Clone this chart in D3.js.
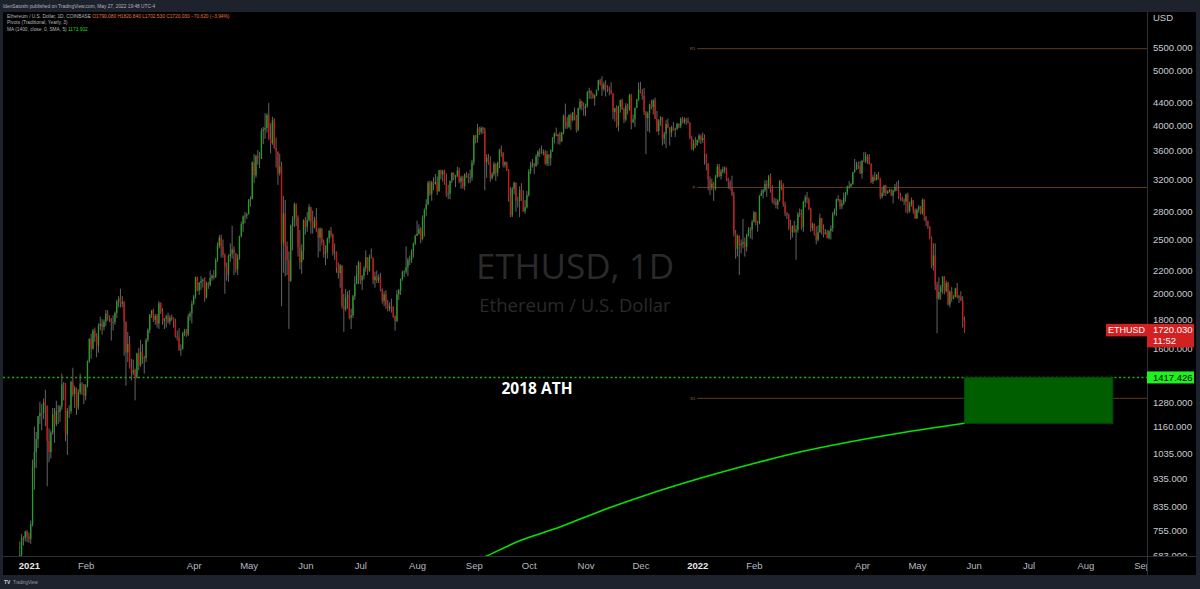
<!DOCTYPE html>
<html>
<head>
<meta charset="utf-8">
<script src="https://cdn.jsdelivr.net/npm/d3@7"></script>
<style>
  body { margin: 0; background: #1e222d; overflow: hidden; }
  svg { display: block; }
</style>
</head>
<body>
<svg id="chart" width="1200" height="589"></svg>
<script>
// daily candles, one row per day: [high, low, close]; open is the previous close
const firstOpen = 590;
const dec2020 = [ // from Dec 16
  [640,588,636],[676,630,643],[658,628,654],[667,648,659],[660,630,638],[645,600,609],[638,597,634],[637,566,584],
  [613,570,612],[628,603,626],[648,622,635],[722,632,683],[745,680,731],[738,710,732],[755,722,752],[757,720,737]];
const jan2021 = [
  [749,718,730],[787,715,775],[1011,768,979],[1158,893,1042],[1133,976,1100],[1210,1060,1208],[1282,1170,1225],[1270,1140,1224],
  [1300,1195,1281],[1348,1160,1262],[1263,906,1090],[1150,1000,1043],[1140,1015,1130],[1250,1120,1218],[1250,1083,1171],[1288,1160,1233],
  [1265,1170,1230],[1265,1180,1257],[1440,1240,1377],[1390,1290,1382],[1385,1090,1121],[1250,1030,1236],[1265,1200,1233],[1400,1220,1392],
  [1475,1310,1324],[1370,1250,1357],[1360,1215,1253],[1350,1240,1332],[1440,1320,1382],[1390,1320,1377],[1380,1270,1314]];
const feb2021 = [
  [1380,1290,1369],[1520,1360,1515],[1665,1505,1660],[1695,1530,1594],[1730,1590,1719],[1740,1640,1677],[1700,1540,1614],[1770,1570,1751],
  [1820,1720,1769],[1800,1690,1744],[1800,1720,1783],[1870,1750,1843],[1870,1790,1814],[1830,1780,1804],[1810,1650,1779],[1830,1720,1781],
  [1860,1760,1848],[1950,1810,1938],[1980,1890,1960],[2042,1890,1920],[1980,1890,1935],[1940,1550,1781],[1785,1370,1571],[1710,1510,1626],
  [1680,1470,1475],[1530,1400,1446],[1525,1430,1459],[1470,1290,1416]];
const mar2021 = [
  [1570,1410,1564],[1600,1460,1492],[1655,1480,1575],[1625,1500,1541],[1550,1440,1533],[1665,1510,1654],[1735,1640,1723],[1840,1700,1834],
  [1870,1810,1868],[1880,1780,1795],[1840,1760,1826],[1840,1740,1769],[1940,1730,1924],[1930,1840,1855],[1885,1760,1788],[1810,1730,1806],
  [1835,1740,1822],[1850,1770,1782],[1830,1760,1812],[1835,1790,1813],[1815,1740,1785],[1805,1670,1681],[1720,1650,1669],[1735,1580,1590],
  [1625,1550,1594],[1710,1590,1702],[1730,1680,1716],[1730,1675,1691],[1840,1680,1819],[1860,1790,1846],[1945,1770,1919]];
const apr2021 = [
  [1990,1910,1977],[2145,1960,2143],[2145,2020,2027],[2100,1990,2093],[2150,2030,2108],[2130,2050,2118],[2140,1935,1971],[2100,1960,2089],
  [2100,2040,2072],[2200,2060,2134],[2165,2110,2155],[2205,2120,2140],[2315,2135,2299],[2470,2280,2435],[2545,2410,2519],[2550,2320,2431],
  [2500,2320,2345],[2360,2000,2237],[2275,2110,2161],[2350,2100,2333],[2460,2280,2357],[2645,2310,2400],[2430,2160,2364],[2365,2180,2211],
  [2350,2160,2317],[2540,2300,2534],[2690,2520,2663],[2760,2580,2747],[2800,2670,2757],[2790,2720,2774]];
const may2021 = [
  [2950,2770,2945],[2985,2860,2950],[3445,2950,3432],[3550,3150,3253],[3540,3220,3522],[3610,3400,3491],[3580,3350,3484],[3950,3480,3904],
  [3970,3700,3928],[4200,3780,3953],[4200,3880,4168],[4380,3760,3786],[4030,3560,3715],[4140,3690,4080],[4115,3630,3640],[3800,3360,3589],
  [3580,3130,3282],[3560,3250,3374],[3440,1900,2461],[2990,2180,2784],[2940,2150,2431],[2480,2160,2296],[2380,1730,2109],[2660,2100,2643],
  [2750,2390,2706],[2910,2630,2888],[2900,2640,2737],[2760,2330,2419],[2600,2210,2277],[2450,2170,2385],[2715,2300,2706]];
const jun2021 = [
  [2740,2550,2634],[2800,2580,2707],[2890,2690,2856],[2860,2560,2690],[2815,2560,2630],[2745,2615,2715],[2845,2580,2592],[2620,2320,2517],
  [2630,2380,2610],[2620,2440,2472],[2500,2320,2354],[2440,2250,2372],[2520,2310,2508],[2600,2460,2587],[2630,2520,2547],[2560,2340,2368],
  [2460,2300,2374],[2380,2180,2226],[2275,2130,2176],[2260,2050,2246],[2250,1880,1899],[2000,1710,1875],[2040,1860,1971],[2020,1880,1990],
  [2030,1800,1813],[1880,1730,1829],[1990,1810,1978],[2150,1950,2085],[2250,2080,2167],[2290,2080,2275]];
const jul2021 = [
  [2270,2080,2112],[2160,2030,2151],[2240,2120,2221],[2390,2190,2323],[2320,2160,2198],[2350,2190,2323],[2410,2310,2316],[2320,2080,2115],
  [2190,2050,2146],[2200,2090,2111],[2165,2090,2140],[2180,2020,2035],[2045,1920,1940],[2020,1900,1995],[2030,1880,1911],[1950,1860,1880],
  [1930,1860,1898],[1960,1850,1895],[1900,1810,1820],[1830,1718,1787],[2030,1780,1995],[2040,1950,2027],[2130,1990,2124],[2200,2110,2188],
  [2200,2140,2191],[2430,2170,2230],[2320,2150,2300],[2340,2250,2298],[2400,2270,2382],[2470,2320,2461],[2550,2440,2536]];
const aug2021 = [
  [2700,2540,2558],[2660,2550,2608],[2630,2460,2507],[2760,2490,2726],[2840,2530,2827],[2950,2750,2890],[3180,2880,3156],[3185,2990,3013],
  [3180,2930,3163],[3230,3060,3142],[3270,3130,3166],[3240,3000,3049],[3330,3040,3323],[3330,3200,3267],[3330,3170,3310],[3330,3130,3148],
  [3280,2980,3012],[3130,2950,3018],[3185,2950,3182],[3300,3150,3286],[3290,3190,3225],[3260,3100,3243],[3370,3230,3321],[3360,3150,3174],
  [3250,3080,3225],[3250,3080,3112],[3280,3060,3269],[3300,3220,3241],[3280,3150,3224],[3330,3150,3227],[3470,3180,3433]];
const sep2021 = [
  [3840,3390,3834],[3840,3710,3790],[4020,3720,3943],[3970,3840,3889],[3980,3850,3953],[3970,3860,3926],[3960,3060,3435],[3550,3220,3497],
  [3550,3400,3427],[3520,3170,3213],[3300,3200,3270],[3440,3240,3410],[3420,3180,3287],[3440,3240,3430],[3630,3350,3614],[3680,3510,3571],
  [3580,3360,3397],[3450,3360,3433],[3440,3310,3331],[3340,2920,2977],[3100,2740,2763],[3100,2740,3078],[3170,3010,3157],[3160,2800,2931],
  [2980,2850,2927],[3110,2740,3063],[3150,2930,2934],[3060,2800,2807],[2940,2780,2853],[3050,2840,3001]];
const oct2021 = [
  [3340,2980,3307],[3440,3270,3391],[3480,3360,3418],[3420,3270,3380],[3550,3370,3518],[3610,3400,3584],[3640,3510,3587],[3680,3550,3563],
  [3620,3530,3577],[3610,3400,3415],[3600,3380,3545],[3550,3380,3492],[3620,3390,3603],[3810,3580,3789],[3880,3710,3866],[3960,3820,3829],
  [3860,3700,3848],[3890,3690,3744],[3890,3730,3878],[4180,3850,4155],[4370,3940,4057],[4140,3940,3972],[4180,3950,4170],[4200,3920,4083],
  [4220,4060,4216],[4300,4080,4131],[4170,3880,3928],[4300,3900,4288],[4460,4260,4415],[4420,4250,4323],[4390,4160,4288]];
const nov2021 = [
  [4370,4150,4323],[4600,4300,4584],[4665,4460,4604],[4620,4450,4534],[4570,4460,4470],[4540,4330,4522],[4630,4510,4620],[4820,4610,4812],
  [4840,4710,4735],[4891,4510,4637],[4780,4600,4730],[4810,4500,4667],[4710,4580,4646],[4690,4520,4622],[4770,4540,4556],[4560,4100,4223],
  [4300,4060,4289],[4340,3960,3990],[4330,3900,4312],[4440,4210,4439],[4460,4260,4272],[4300,4030,4093],[4380,4060,4335],[4370,4180,4270],
  [4550,4240,4526],[4550,3930,4042],[4180,4040,4097],[4300,3970,4296],[4460,4290,4446],[4770,4420,4632]];
const dec2021 = [
  [4780,4560,4586],[4640,4440,4511],[4660,4170,4224],[4240,3550,4118],[4230,3900,4200],[4370,3880,4357],[4440,4270,4309],[4450,4180,4428],
  [4480,4100,4108],[4240,3890,3903],[4100,3840,4077],[4150,3990,4136],[4130,3680,3785],[3890,3700,3862],[4090,3640,4018],[4110,3950,3962],
  [3970,3680,3880],[3990,3810,3960],[4050,3910,3926],[3960,3810,3941],[4040,3920,4020],[4030,3950,3982],[4130,3950,4108],[4140,4030,4049],
  [4130,4020,4096],[4120,4000,4069],[4130,4030,4036],[4050,3770,3796],[3830,3610,3629],[3770,3600,3711],[3810,3640,3682]];
const jan2022 = [
  [3770,3680,3765],[3860,3720,3830],[3850,3700,3762],[3880,3720,3794],[3850,3400,3551],[3560,3320,3416],[3420,3060,3195],[3240,3000,3088],
  [3210,3060,3144],[3170,2930,3083],[3260,3060,3238],[3410,3220,3373],[3410,3230,3244],[3340,3200,3306],[3370,3280,3332],[3380,3280,3357],
  [3360,3180,3213],[3220,3080,3164],[3190,3060,3097],[3250,2990,3000],[3040,2530,2561],[2600,2310,2407],[2550,2330,2538],[2540,2160,2443],
  [2500,2360,2456],[2720,2410,2472],[2520,2330,2424],[2560,2380,2547],[2630,2530,2597],[2630,2510,2603],[2710,2500,2688]];
const feb2022 = [
  [2810,2680,2792],[2800,2650,2682],[2700,2580,2677],[3000,2660,2989],[3070,2990,3026],[3080,2960,3060],[3190,3040,3140],[3190,2980,3111],
  [3260,3080,3239],[3280,3030,3076],[3130,2900,2930],[2970,2880,2920],[2960,2840,2880],[2950,2830,2935],[3190,2920,3183],[3190,3060,3127],
  [3150,2860,2885],[2920,2750,2784],[2800,2720,2764],[2780,2600,2625],[2710,2500,2575],[2650,2520,2640],[2700,2570,2583],[2650,2300,2601],
  [2800,2570,2772],[2840,2740,2780],[2830,2600,2627],[2930,2580,2919]];
const mar2022 = [
  [3000,2850,2973],[3040,2900,2948],[2970,2820,2835],[2850,2580,2619],[2680,2590,2665],[2670,2540,2555],[2640,2450,2497],[2650,2480,2574],
  [2780,2570,2728],[2730,2550,2607],[2660,2520,2557],[2610,2550,2572],[2600,2510,2515],[2600,2500,2587],[2650,2500,2617],[2800,2580,2774],
  [2840,2760,2813],[2960,2750,2944],[3000,2920,2950],[2950,2830,2863],[2940,2830,2896],[3030,2880,2970],[3040,2920,3031],[3120,3000,3109],
  [3180,3080,3109],[3150,3100,3142],[3300,3130,3297],[3480,3290,3331],[3440,3330,3401],[3440,3340,3384],[3450,3270,3282]];
const apr2022 = [
  [3470,3210,3451],[3580,3440,3445],[3580,3420,3522],[3550,3410,3520],[3550,3400,3409],[3420,3150,3171],[3260,3140,3233],[3300,3180,3190],
  [3270,3190,3264],[3300,3200,3210],[3220,2950,2981],[3100,2960,3029],[3130,2990,3117],[3130,2990,3020],[3060,3020,3040],[3080,3030,3061],
  [3080,2990,2993],[3070,2900,3056],[3140,3040,3104],[3170,3050,3075],[3190,2950,2986],[3030,2930,2964],[2980,2920,2935],[2960,2880,2922],
  [3020,2790,3008],[3030,2780,2808],[2920,2790,2889],[2970,2860,2936],[2940,2780,2817],[2840,2720,2727]];
const may2022 = [
  [2840,2720,2826],[2880,2790,2859],[2870,2770,2782],[2960,2770,2942],[2950,2700,2749],[2750,2640,2695],[2700,2610,2635],[2640,2500,2518],
  [2530,2220,2243],[2460,2200,2342],[2460,2030,2073],[2100,1700,1961],[2140,1950,2014],[2075,1950,2055],[2150,2000,2145],[2150,1995,2022],
  [2110,2010,2090],[2100,1905,1913],[2030,1890,2017],[2055,1935,1960],[1990,1955,1976],[2050,1970,2043],[2090,1960,1971],[1990,1925,1978],
  [2020,1940,1945],[1980,1740,1790.08],[1820.84,1702.53,1720.03]];

const months = [
  [2020, 11, 16, dec2020], [2021, 0, 1, jan2021], [2021, 1, 1, feb2021], [2021, 2, 1, mar2021],
  [2021, 3, 1, apr2021], [2021, 4, 1, may2021], [2021, 5, 1, jun2021], [2021, 6, 1, jul2021],
  [2021, 7, 1, aug2021], [2021, 8, 1, sep2021], [2021, 9, 1, oct2021], [2021, 10, 1, nov2021],
  [2021, 11, 1, dec2021], [2022, 0, 1, jan2022], [2022, 1, 1, feb2022], [2022, 2, 1, mar2022],
  [2022, 3, 1, apr2022], [2022, 4, 1, may2022]];

// MA(1400)
const maDates = ["2021-08-25","2021-09-07","2021-09-26","2021-10-18","2021-11-09","2021-12-01",
  "2022-01-03","2022-02-04","2022-02-26","2022-03-25","2022-04-22","2022-05-27"];
const maValues = [650, 678, 724, 766, 818, 867, 937, 1001, 1043, 1087, 1128, 1173.902];

// yearly pivots
const pivotNames = ["R1", "P", "S1"];
const pivotValues = [5477.7, 3095.8, 1300.8];
const pivotStart = "2022-01-01";

const athLevel = 1417.426;
const zoneDates = ["2022-05-27", "2022-08-16"];
const zonePrices = [1173.902, 1417.426];
const lastClose = 1720.03;

const priceTicks = [5500, 5000, 4400, 4000, 3600, 3200, 2800, 2500, 2200, 2000, 1800, 1600, 1280, 1160, 1035, 935, 835, 755, 683];
const timeTickDates = ["2021-01-01","2021-02-01","2021-04-01","2021-05-01","2021-06-01","2021-07-01","2021-08-01","2021-09-01",
  "2021-10-01","2021-11-01","2021-12-01","2022-01-01","2022-02-01","2022-04-01","2022-05-01","2022-06-01","2022-07-01","2022-08-01","2022-09-01"];
const timeTickLabels = ["2021","Feb","Apr","May","Jun","Jul","Aug","Sep","Oct","Nov","Dec","2022","Feb","Apr","May","Jun","Jul","Aug","Sep"];

// build candles
const candles = [];
let prev = firstOpen;
months.forEach(([yr, mo, d0, rows]) => {
  rows.forEach((r, i) => {
    candles.push({ date: new Date(Date.UTC(yr, mo, d0 + i)), open: prev, high: r[0], low: r[1], close: r[2] });
    prev = r[2];
  });
});
const parse = d3.utcParse("%Y-%m-%d");

const svg = d3.select("#chart");
const font = "'Liberation Sans', Arial, sans-serif";
const plotL = 3, plotR = 1147, plotT = 12, plotB = 556;

// panel
svg.append("rect").attr("x", 3).attr("y", 12).attr("width", 1193).attr("height", 563).attr("fill", "#000");

const x = d3.scaleUtc()
  .domain([Date.UTC(2021, 0, 1), Date.UTC(2022, 0, 1)])
  .range([28.9, 697.2]);
const y = d3.scaleLog().domain([683, 5500]).range([555, 47.7]);

svg.append("clipPath").attr("id", "plot")
  .append("rect").attr("x", plotL).attr("y", plotT).attr("width", plotR - plotL).attr("height", plotB - plotT);

// watermark
svg.append("text").attr("x", 575).attr("y", 279).attr("text-anchor", "middle")
  .attr("font-family", "'Open Sans', sans-serif").attr("font-size", 35).attr("fill", "#2a2a2a")
  .text("ETHUSD, 1D");
svg.append("text").attr("x", 575).attr("y", 312).attr("text-anchor", "middle")
  .attr("font-family", "'Open Sans', sans-serif").attr("font-size", 18.5).attr("fill", "#2a2a2a")
  .text("Ethereum / U.S. Dollar");

const g = svg.append("g").attr("clip-path", "url(#plot)");

// pivots
const pivX0 = x(parse(pivotStart));
g.selectAll(".pivot").data(pivotValues).enter().append("line")
  .attr("x1", pivX0).attr("x2", plotR)
  .attr("y1", d => y(d)).attr("y2", d => y(d))
  .attr("stroke", "#5e3d1c").attr("stroke-width", 1);
g.selectAll(".pivlab").data(pivotNames).enter().append("text")
  .attr("x", pivX0 - 2).attr("y", (d, i) => y(pivotValues[i]) + 1.5)
  .attr("text-anchor", "end").attr("font-family", font).attr("font-size", 4).attr("fill", "#9a6a34")
  .text(d => d);

// 2018 ATH dotted line
g.append("line").attr("x1", plotL).attr("x2", plotR)
  .attr("y1", y(athLevel)).attr("y2", y(athLevel))
  .attr("stroke", "#0fb20f").attr("stroke-width", 1.5).attr("stroke-dasharray", "2,2.5");

// zone
g.append("rect")
  .attr("x", x(parse(zoneDates[0]))).attr("y", y(zonePrices[1]))
  .attr("width", x(parse(zoneDates[1])) - x(parse(zoneDates[0])))
  .attr("height", y(zonePrices[0]) - y(zonePrices[1]))
  .attr("fill", "#005d00").attr("stroke", "#004a00").attr("stroke-width", 1);

// MA line
const maLine = d3.line().x(d => x(d[0])).y(d => y(d[1])).curve(d3.curveMonotoneX);
g.append("path").datum(maDates.map((d, i) => [parse(d), maValues[i]]))
  .attr("d", maLine).attr("fill", "none").attr("stroke", "#00e600").attr("stroke-width", 1.6);

// candles
const bw = 1.3;
g.selectAll(".wick").data(candles).enter().append("line")
  .attr("x1", d => x(d.date)).attr("x2", d => x(d.date))
  .attr("y1", d => y(Math.max(d.high, d.open, d.close)))
  .attr("y2", d => y(Math.min(d.low, d.open, d.close)))
  .attr("stroke", "#6f6f6f").attr("stroke-width", 0.9);
g.selectAll(".body").data(candles).enter().append("rect")
  .attr("x", d => x(d.date) - bw / 2)
  .attr("y", d => y(Math.max(d.open, d.close)))
  .attr("width", bw)
  .attr("height", d => Math.max(0.8, Math.abs(y(d.open) - y(d.close))))
  .attr("fill", d => d.close >= d.open ? "#23a123" : "#d41414");

// ATH text
svg.append("text").attr("x", 537).attr("y", 394).attr("text-anchor", "middle")
  .attr("font-family", "'Open Sans', sans-serif").attr("font-weight", "bold").attr("font-size", 15.5)
  .attr("fill", "#fff").text("2018 ATH");

// axes separators
svg.append("line").attr("x1", plotR + 0.5).attr("x2", plotR + 0.5).attr("y1", 12).attr("y2", 575)
  .attr("stroke", "#2e3039");
svg.append("line").attr("x1", 3).attr("x2", 1196).attr("y1", plotB + 0.5).attr("y2", plotB + 0.5)
  .attr("stroke", "#2e3039");

// price axis
svg.append("clipPath").attr("id", "paxis")
  .append("rect").attr("x", plotR).attr("y", plotT).attr("width", 50).attr("height", plotB - plotT);
const yAxis = svg.append("g").attr("clip-path", "url(#paxis)")
  .append("g").attr("transform", `translate(${plotR},0)`)
  .call(d3.axisRight(y).tickValues(priceTicks).tickFormat(d3.format(".3f")).tickSize(0).tickPadding(6));
yAxis.select(".domain").remove();
yAxis.selectAll("text").attr("font-family", font).attr("font-size", 9.5).attr("fill", "#c8cad0");
svg.append("text").attr("x", 1153).attr("y", 21).attr("font-family", font).attr("font-size", 9.5)
  .attr("fill", "#c8cad0").text("USD");

// time axis
svg.append("clipPath").attr("id", "taxis")
  .append("rect").attr("x", plotL).attr("y", plotB).attr("width", plotR - plotL).attr("height", 19);
const xAxis = svg.append("g").attr("clip-path", "url(#taxis)")
  .append("g").attr("transform", `translate(0,${plotB})`)
  .call(d3.axisBottom(x).tickValues(timeTickDates.map(parse)).tickFormat((d, i) => timeTickLabels[i]).tickSize(0).tickPadding(6));
xAxis.select(".domain").remove();
xAxis.selectAll("text").attr("font-family", font).attr("font-size", 9.5)
  .attr("fill", (d, i) => /^\d+$/.test(timeTickLabels[i]) ? "#e6e7ea" : "#b8bac0")
  .attr("font-weight", (d, i) => /^\d+$/.test(timeTickLabels[i]) ? "bold" : "normal");

// last price label
const yl = y(lastClose);
svg.append("rect").attr("x", 1106).attr("y", yl - 6.5).attr("width", 41).attr("height", 12.5).attr("fill", "#d32020");
svg.append("text").attr("x", 1126.5).attr("y", yl + 3).attr("text-anchor", "middle")
  .attr("font-family", font).attr("font-size", 9).attr("fill", "#fff").text("ETHUSD");
svg.append("rect").attr("x", 1147).attr("y", yl - 6.5).attr("width", 47).attr("height", 23.5).attr("fill", "#d32020");
svg.append("text").attr("x", 1153).attr("y", yl + 3).attr("font-family", font).attr("font-size", 9.5)
  .attr("fill", "#fff").text(d3.format(".3f")(lastClose));
svg.append("text").attr("x", 1153).attr("y", yl + 14).attr("font-family", font).attr("font-size", 9.5)
  .attr("fill", "#fff").text("11:52");

// ATH label
const ya = y(athLevel);
svg.append("rect").attr("x", 1147).attr("y", ya - 6).attr("width", 47).attr("height", 12).attr("fill", "#1ef21e");
svg.append("text").attr("x", 1153).attr("y", ya + 3.3).attr("font-family", font).attr("font-size", 9.5)
  .attr("fill", "#000").text(d3.format(".3f")(athLevel));

// header
svg.append("text").attr("x", 3).attr("y", 7.5).attr("font-family", font).attr("font-size", 4.8)
  .attr("fill", "#b2b5be").text("IdenSatoshi published on TradingView.com, May 27, 2022 19:48 UTC-4");
const leg1 = svg.append("text").attr("x", 7).attr("y", 17.5).attr("font-family", font).attr("font-size", 4.8).attr("fill", "#b2b5be");
leg1.append("tspan").text("Ethereum / U.S. Dollar, 1D, COINBASE  ");
leg1.append("tspan").attr("fill", "#e8782c").text("O1790.080 H1820.840 L1702.530 C1720.030 \u221270.620 (\u22123.94%)");
svg.append("text").attr("x", 7).attr("y", 24.3).attr("font-family", font).attr("font-size", 4.8)
  .attr("fill", "#b2b5be").text("Pivots (Traditional, Yearly, 3)");
const leg3 = svg.append("text").attr("x", 7).attr("y", 31).attr("font-family", font).attr("font-size", 4.8).attr("fill", "#b2b5be");
leg3.append("tspan").text("MA (1400, close, 0, SMA, 5)  ");
leg3.append("tspan").attr("fill", "#22d622").text("1173.902");

// footer
svg.append("text").attr("x", 4).attr("y", 584).attr("font-family", font).attr("font-size", 5)
  .attr("font-weight", "bold").attr("fill", "#c8cad0").text("TV");
svg.append("text").attr("x", 13).attr("y", 584).attr("font-family", font).attr("font-size", 4.5)
  .attr("fill", "#9598a1").text("TradingView");
</script>
</body>
</html>
